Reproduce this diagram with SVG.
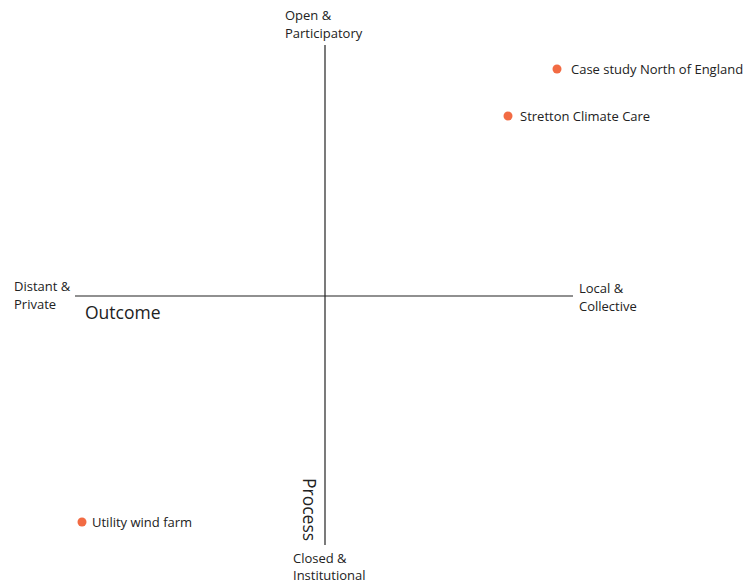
<svg xmlns="http://www.w3.org/2000/svg" width="746" height="583" viewBox="0 0 746 583">
<style>
.lbl{font-family:"Open Sans","Noto Sans",sans-serif;font-size:13px;fill:#222}
.big{font-family:"Open Sans","Noto Sans",sans-serif;font-size:17.5px;fill:#222}
.axis{stroke:#222;stroke-width:1.2;fill:none}
.dot{fill:#F26B43}
</style>
<rect width="746" height="583" fill="#fff"/>
<g id="connectors">
<line class="axis" x1="325" y1="45" x2="325" y2="545"/>
<line class="axis" x1="75" y1="296" x2="573" y2="296"/>
</g>
<g id="axis-labels">
<text class="lbl" x="285" y="20">Open &amp;</text>
<text class="lbl" x="285" y="38">Participatory</text>
<text class="lbl" x="14" y="291">Distant &amp;</text>
<text class="lbl" x="14" y="309">Private</text>
<text class="big" x="85" y="319">Outcome</text>
<text class="lbl" x="579" y="293">Local &amp;</text>
<text class="lbl" x="579" y="311">Collective</text>
<text class="lbl" x="293" y="563">Closed &amp;</text>
<text class="lbl" x="293" y="580">Institutional</text>
<text class="big" transform="translate(303,478) rotate(90)">Process</text>
</g>
<g id="case-study">
<circle class="dot" cx="557" cy="69" r="4.5"/>
<text class="lbl" x="571" y="74">Case study North of England</text>
</g>
<g id="stretton">
<circle class="dot" cx="508" cy="116" r="4.5"/>
<text class="lbl" x="520" y="121">Stretton Climate Care</text>
</g>
<g id="utility">
<circle class="dot" cx="82" cy="522" r="4.5"/>
<text class="lbl" x="92" y="527">Utility wind farm</text>
</g>
</svg>
